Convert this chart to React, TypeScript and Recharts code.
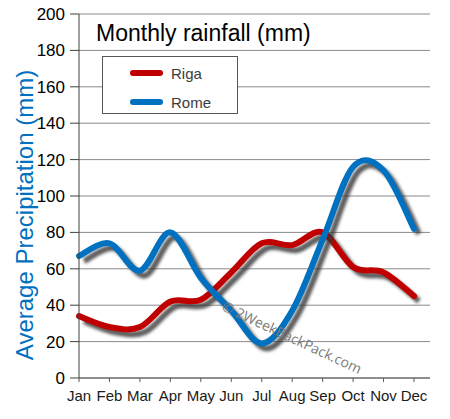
import React from 'react';
import { LineChart, Line, XAxis, YAxis, CartesianGrid } from 'recharts';

const months = ['Jan', 'Feb', 'Mar', 'Apr', 'May', 'Jun', 'Jul', 'Aug', 'Sep', 'Oct', 'Nov', 'Dec'];
const riga = [34, 28, 28, 42, 43, 58, 74, 73, 80, 61, 58, 45];
const rome = [67, 74, 59, 80, 55, 37, 19, 37, 76, 116, 114, 82];
const yTicks = [0, 20, 40, 60, 80, 100, 120, 140, 160, 180, 200];

const series = [
  { key: 'riga', name: 'Riga', color: '#c00000' },
  { key: 'rome', name: 'Rome', color: '#0070c0' },
];

const data = months.map((m, i) => ({ month: m, riga: riga[i], rome: rome[i] }));

// Excel-style smoothed line (Catmull-Rom through every point)
const smoothCurve: any = (context: any) => {
  let pts: number[][] = [];
  return {
    areaStart() {},
    areaEnd() {},
    lineStart() { pts = []; },
    point(x: number, y: number) { pts.push([+x, +y]); },
    lineEnd() {
      if (!pts.length) return;
      context.moveTo(pts[0][0], pts[0][1]);
      const t = 1 / 6;
      for (let i = 0; i < pts.length - 1; i++) {
        const p0 = pts[i - 1] || pts[i];
        const p1 = pts[i];
        const p2 = pts[i + 1];
        const p3 = pts[i + 2] || p2;
        context.bezierCurveTo(
          p1[0] + (p2[0] - p0[0]) * t, p1[1] + (p2[1] - p0[1]) * t,
          p2[0] - (p3[0] - p1[0]) * t, p2[1] - (p3[1] - p1[1]) * t,
          p2[0], p2[1]
        );
      }
    },
  };
};

const LegendBox = () => (
  <div style={{ position: 'absolute', left: 102, top: 56, width: 134, height: 56, border: '1px solid #555', background: '#fff' }}>
    {series.map((s, i) => (
      <div key={s.key} style={{ position: 'absolute', left: 0, top: 5 + i * 29, height: 22, display: 'flex', alignItems: 'center' }}>
        <div style={{ marginLeft: 27, width: 33, height: 6, borderRadius: 3, background: s.color }} />
        <span style={{ marginLeft: 8, fontSize: 15, color: '#3a3a3a' }}>{s.name}</span>
      </div>
    ))}
  </div>
);

export default function App() {
  return (
    <div style={{ position: 'absolute', left: 0, top: 0, width: 450, height: 419, background: '#fff', fontFamily: '"Liberation Sans", Arial, sans-serif' }}>
      <style>{`
        .shadow-line .recharts-line-curve { transform: translate(5px, 5px); filter: url(#lineShadow); }
      `}</style>
      <svg width={0} height={0} style={{ position: 'absolute' }}>
        <defs>
          <filter id="lineShadow" x="-20%" y="-20%" width="140%" height="140%">
            <feGaussianBlur stdDeviation="1.8" />
          </filter>
        </defs>
      </svg>
      <LineChart width={450} height={419} data={data} margin={{ top: 14, right: 20, bottom: 0, left: 0 }}>
        <CartesianGrid vertical={false} stroke="#8a8a8a" />
        <XAxis
          dataKey="month"
          padding={{ left: 0, right: 16 }}
          height={41}
          tickSize={4}
          tickMargin={8}
          interval={0}
          stroke="#595959"
          tick={{ fontSize: 15, fill: '#1a1a1a' }}
        />
        <XAxis xAxisId="top" dataKey="month" orientation="top" height={0} tick={false} tickLine={false} axisLine={{ stroke: '#000' }} />
        <YAxis
          domain={[0, 200]}
          ticks={yTicks}
          width={79}
          tickSize={9}
          tickMargin={5}
          interval={0}
          stroke="#404040"
          tick={{ fontSize: 17, fill: '#000' }}
        />
        <YAxis yAxisId="right" orientation="right" width={0} domain={[0, 200]} tick={false} tickLine={false} axisLine={{ stroke: '#000' }} />
        {series.map((s) => [
          <Line
            key={s.key + '-shadow'}
            className="shadow-line"
            dataKey={s.key}
            type={smoothCurve}
            stroke="#333"
            strokeOpacity={0.8}
            strokeWidth={6}
            dot={false}
            activeDot={false}
            legendType="none"
            isAnimationActive={false}
          />,
          <Line
            key={s.key}
            dataKey={s.key}
            name={s.name}
            type={smoothCurve}
            stroke={s.color}
            strokeWidth={6}
            strokeLinecap="round"
            dot={false}
            activeDot={false}
            isAnimationActive={false}
          />,
        ])}
      </LineChart>
      <LegendBox />
      <div style={{ position: 'absolute', left: 96, top: 20, fontSize: 23, color: '#000', whiteSpace: 'nowrap' }}>
        Monthly rainfall (mm)
      </div>
      <div style={{ position: 'absolute', left: 25, top: 215, transform: 'translate(-50%, -50%) rotate(-90deg)', fontSize: 24, color: '#0070c0', whiteSpace: 'nowrap' }}>
        Average Precipitation (mm)
      </div>
      <div style={{ position: 'absolute', left: 292, top: 337, transform: 'translate(-50%, -50%) rotate(25deg)', fontSize: 14, color: '#7a7a7a', fontFamily: '"Open Sans", sans-serif', whiteSpace: 'nowrap' }}>
        © 2WeekBackPack.com
      </div>
    </div>
  );
}
